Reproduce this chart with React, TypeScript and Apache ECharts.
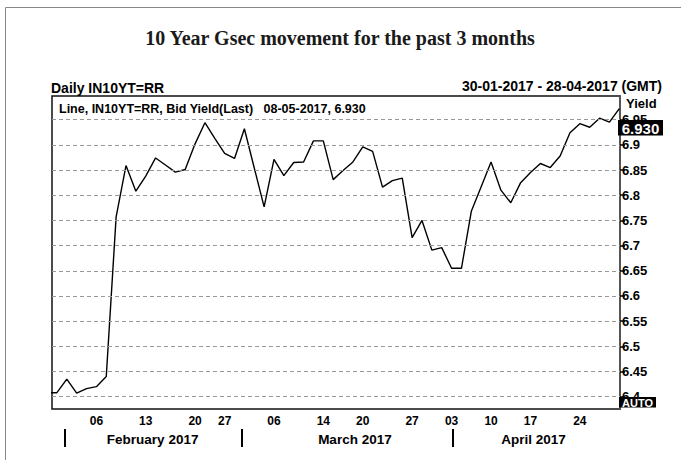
import React, { useEffect, useRef } from 'react';
import * as echarts from 'echarts';

// Trading days (dd-mm, 2017)
const dates = [
  '30-01', '31-01', '01-02', '02-02', '03-02', '06-02', '07-02', '08-02', '09-02', '10-02',
  '13-02', '14-02', '15-02', '16-02', '17-02', '20-02', '21-02', '22-02', '27-02', '28-02',
  '01-03', '02-03', '03-03', '06-03', '07-03', '08-03', '09-03', '10-03', '14-03', '15-03',
  '16-03', '17-03', '20-03', '21-03', '22-03', '23-03', '24-03', '27-03', '29-03', '30-03',
  '31-03', '03-04', '05-04', '06-04', '07-04', '10-04', '11-04', '12-04', '13-04', '17-04',
  '18-04', '19-04', '20-04', '21-04', '24-04', '25-04', '26-04', '27-04', '28-04',
];

// Bid yield (last)
const yields = [
  6.408, 6.408, 6.435, 6.407, 6.416, 6.420, 6.440, 6.757, 6.859, 6.808,
  6.838, 6.874, 6.860, 6.846, 6.851, 6.902, 6.944, 6.913, 6.883, 6.873,
  6.932, 6.854, 6.777, 6.871, 6.839, 6.865, 6.866, 6.908, 6.908, 6.831,
  6.849, 6.866, 6.896, 6.887, 6.816, 6.829, 6.834, 6.716, 6.750, 6.691,
  6.696, 6.655, 6.655, 6.768, 6.817, 6.866, 6.810, 6.785, 6.825, 6.845,
  6.863, 6.855, 6.878, 6.924, 6.942, 6.935, 6.953, 6.945, 6.972,
];

const dayTickDates = ['06-02', '13-02', '20-02', '27-02', '06-03', '14-03', '20-03', '27-03', '03-04', '10-04', '17-04', '24-04'];
const yTicks = [6.4, 6.45, 6.5, 6.55, 6.6, 6.65, 6.7, 6.75, 6.8, 6.85, 6.9, 6.95];
const monthNames = ['February 2017', 'March 2017', 'April 2017'];
const monthLabelPos = [10.7, 31.2, 49.3];
const monthBoundaries = [1.8, 19.7, 41.1];
const lastValueLabel = '6.930';

const SANS = '"Liberation Sans", Arial, sans-serif';
const SERIF = '"Liberation Serif", "Times New Roman", serif';

export default function App() {
  const ref = useRef<HTMLDivElement>(null);
  useEffect(() => {
    if (!ref.current) return;
    const chart = echarts.init(ref.current, undefined, { renderer: 'svg' });
    const dayTickIdx = dayTickDates.map((d) => dates.indexOf(d));
    const option: any = {
      animation: false,
      backgroundColor: '#fff',
      grid: {
        left: 52, top: 96, width: 568, height: 313,
        show: true, borderColor: '#111', borderWidth: 1.5, backgroundColor: 'transparent',
      },
      xAxis: [
        {
          type: 'value', min: 0.5, max: 58.07,
          axisLine: { show: false }, axisTick: { show: false }, splitLine: { show: false },
          axisLabel: {
            customValues: dayTickIdx,
            formatter: (v: number) => dates[Math.round(v)].slice(0, 2),
            fontFamily: SANS, fontWeight: 'bold', fontSize: 12, color: '#000', margin: 6,
          },
        },
        {
          type: 'value', min: 0.5, max: 58.07, position: 'bottom', offset: 20,
          axisLine: { show: false }, splitLine: { show: false },
          axisTick: {
            show: true, customValues: monthBoundaries, length: 18, inside: false,
            lineStyle: { color: '#000', width: 2 },
          },
          axisLabel: {
            customValues: monthLabelPos,
            formatter: (v: number) => {
              let best = 0;
              monthLabelPos.forEach((p, i) => { if (Math.abs(p - v) < Math.abs(monthLabelPos[best] - v)) best = i; });
              return monthNames[best];
            },
            fontFamily: SANS, fontWeight: 'bold', fontSize: 13.5, color: '#000', margin: 3,
          },
        },
      ],
      yAxis: {
        type: 'value', position: 'right', min: 6.3756, max: 6.997,
        axisLine: { show: true, lineStyle: { color: '#555', width: 2 } },
        axisTick: { show: true, customValues: yTicks, length: 5, inside: false, lineStyle: { color: '#000', width: 1.5 } },
        axisLabel: {
          customValues: yTicks,
          formatter: (v: number) => String(+v.toFixed(2)),
          fontFamily: SANS, fontWeight: 'bold', fontSize: 13, color: '#000', margin: 2,
        },
        splitLine: { show: false },
      },
      series: [
        {
          type: 'line',
          data: yields.map((v, i) => [i, v]),
          showSymbol: false,
          symbol: 'none',
          lineStyle: { color: '#000', width: 1.4 },
          clip: true,
          markLine: {
            silent: true,
            symbol: ['none', 'none'],
            label: { show: false },
            lineStyle: { type: [4, 3], color: '#999', width: 1 },
            data: yTicks.map((v) => ({ yAxis: v })),
          },
        },
      ],
      graphic: [
        { type: 'rect', z: 1, shape: { x: 5.5, y: 7.5, width: 700, height: 500 }, style: { fill: 'none', stroke: '#888', lineWidth: 1 } },
        {
          type: 'text', x: 340, y: 38, z: 100,
          style: { text: '10 Year Gsec movement for the past 3 months', font: `bold 20px ${SERIF}`, fill: '#1a1a1a', textAlign: 'center', textVerticalAlign: 'middle' },
        },
        {
          type: 'text', x: 51, y: 88, z: 100,
          style: { text: 'Daily IN10YT=RR', font: `bold 14px ${SANS}`, fill: '#000', textAlign: 'left', textVerticalAlign: 'middle' },
        },
        {
          type: 'text', x: 662, y: 86, z: 100,
          style: { text: '30-01-2017 - 28-04-2017 (GMT)', font: `bold 14px ${SANS}`, fill: '#000', textAlign: 'right', textVerticalAlign: 'middle' },
        },
        {
          type: 'text', x: 59, y: 109, z: 100,
          style: { text: 'Line, IN10YT=RR, Bid Yield(Last)   08-05-2017, 6.930', font: `bold 12.5px ${SANS}`, fill: '#000', textAlign: 'left', textVerticalAlign: 'middle' },
        },
        {
          type: 'text', x: 626, y: 103, z: 100,
          style: { text: 'Yield', font: `bold 13px ${SANS}`, fill: '#000', textAlign: 'left', textVerticalAlign: 'middle' },
        },
        { type: 'rect', z: 100, shape: { x: 618, y: 120, width: 45, height: 15.5 }, style: { fill: '#000' } },
        {
          type: 'text', x: 640.5, y: 128, z: 101,
          style: { text: lastValueLabel, font: `bold 15px ${SANS}`, fill: '#fff', textAlign: 'center', textVerticalAlign: 'middle' },
        },
        { type: 'rect', z: 100, shape: { x: 619, y: 397, width: 37, height: 10.5 }, style: { fill: '#000' } },
        {
          type: 'text', x: 637.5, y: 402.5, z: 101,
          style: { text: 'AUTO', font: `bold 11px ${SANS}`, fill: '#fff', textAlign: 'center', textVerticalAlign: 'middle' },
        },
      ],
    };
    chart.setOption(option);
    return () => chart.dispose();
  }, []);
  return <div ref={ref} style={{ position: 'absolute', left: 0, top: 0, width: 681, height: 460, background: '#fff' }} />;
}
